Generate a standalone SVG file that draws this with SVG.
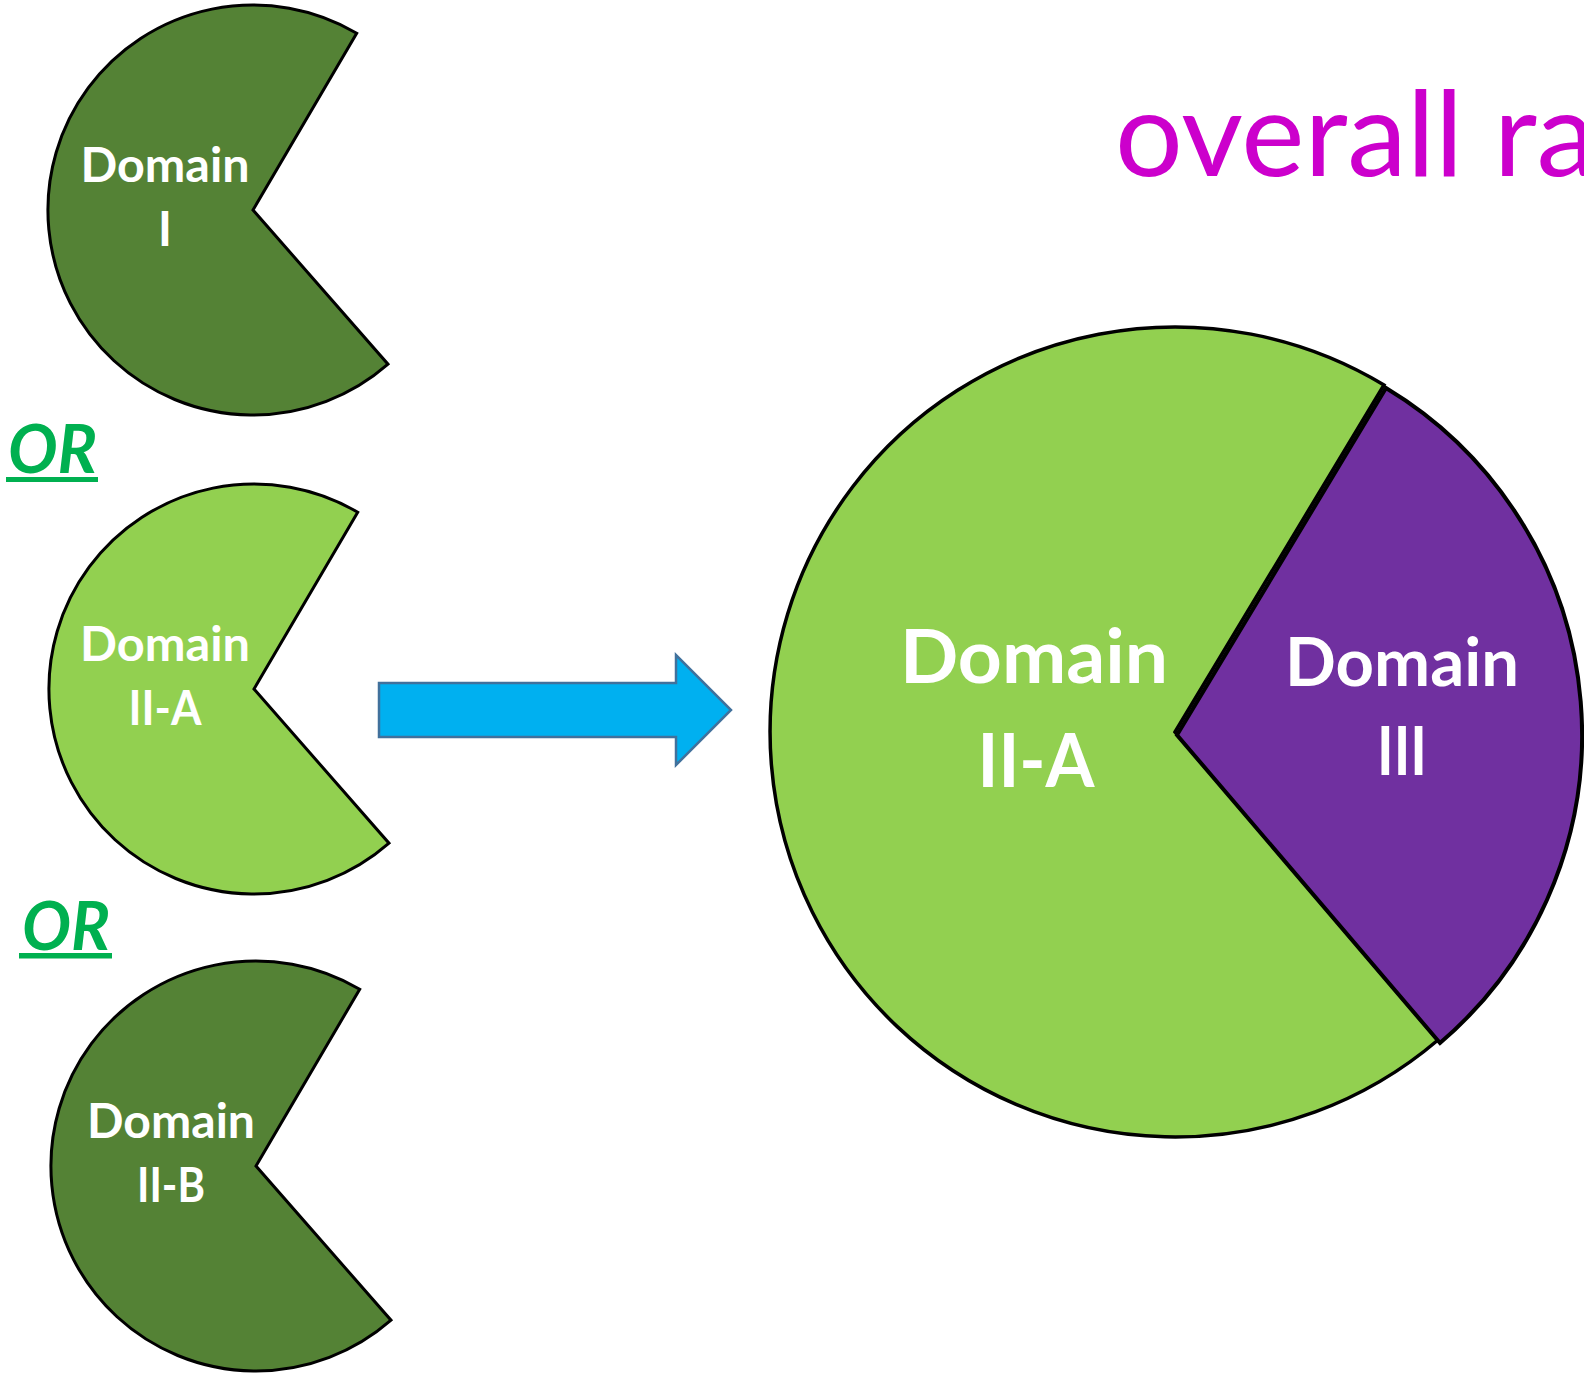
<svg xmlns="http://www.w3.org/2000/svg" xmlns:xlink="http://www.w3.org/1999/xlink" width="1584" height="1376" viewBox="0 0 1584 1376">
  <style>
    .lbl { font-family: Lato, "Open Sans", "Liberation Sans", sans-serif; font-weight: 700; fill: #FFFFFF; text-anchor: middle; }
    .s { font-size: 47px; }
    .or { font-family: Lato, "Open Sans", "Liberation Sans", sans-serif; font-weight: 700; font-style: italic; font-size: 67px; fill: #00B050; }
    .ul { fill: #00B050; }
    .pac { stroke: #000000; stroke-width: 3; stroke-linejoin: miter; }
    .dark { fill: #548235; }
    .light { fill: #92D050; }
    .title { font-family: Lato, "Open Sans", "Liberation Sans", sans-serif; font-weight: 400; font-size: 118px; fill: #CC00CC; }
  </style>
  <defs>
    <path id="pac" d="M0 0 L103.7 -176.8 A205 205 0 1 0 135 154.2 Z"/>
  </defs>
  <rect x="0" y="0" width="1584" height="1376" fill="#FFFFFF"/>

  <g id="title">
    <text class="title" x="1115" y="176" textLength="481" lengthAdjust="spacingAndGlyphs">overall ra</text>
  </g>

  <g id="domain-I">
    <use xlink:href="#pac" href="#pac" class="pac dark" transform="translate(253 210)"/>
    <text class="lbl s" x="165" y="182" textLength="169" lengthAdjust="spacingAndGlyphs">Domain</text>
    <text class="lbl s" x="165" y="246">I</text>
  </g>

  <g id="or-1">
    <text class="or" x="8" y="473" textLength="89" lengthAdjust="spacingAndGlyphs">OR</text>
    <rect class="ul" x="6" y="477" width="92" height="5"/>
  </g>

  <g id="domain-IIA-small">
    <use xlink:href="#pac" href="#pac" class="pac light" transform="translate(254 689)"/>
    <text class="lbl s" x="165" y="661" textLength="170" lengthAdjust="spacingAndGlyphs">Domain</text>
    <text class="lbl s" x="165" y="725" textLength="73" lengthAdjust="spacingAndGlyphs">II-A</text>
  </g>

  <g id="or-2">
    <text class="or" x="22" y="950" textLength="88" lengthAdjust="spacingAndGlyphs">OR</text>
    <rect class="ul" x="19" y="953" width="93" height="5.5"/>
  </g>

  <g id="domain-IIB">
    <use xlink:href="#pac" href="#pac" class="pac dark" transform="translate(256 1166)"/>
    <text class="lbl s" x="171" y="1138" textLength="168" lengthAdjust="spacingAndGlyphs">Domain</text>
    <text class="lbl s" x="171" y="1202" textLength="68" lengthAdjust="spacingAndGlyphs">II-B</text>
  </g>

  <g id="connectors">
    <path id="arrow" d="M379 683 L676 683 L676 655 L731 710 L676 765 L676 737 L379 737 Z" fill="#00B0F0" stroke="#41719C" stroke-width="2.5" stroke-linejoin="miter"/>
  </g>

  <g id="domain-IIA-big">
    <path d="M1175 732 L1384 385 A405 405 0 1 0 1438 1040 Z" fill="#92D050" stroke="#000000" stroke-width="3.5"/>
    <text class="lbl" style="font-size:74px" x="1034" y="683" textLength="268" lengthAdjust="spacingAndGlyphs">Domain</text>
    <text class="lbl" style="font-size:74px" x="1036" y="787" textLength="117" lengthAdjust="spacingAndGlyphs">II-A</text>
  </g>

  <g id="domain-III">
    <path d="M1177 735 L1386 388 A405 405 0 0 1 1440 1043 Z" fill="#7030A0" stroke="#000000" stroke-width="4"/>
    <text class="lbl" style="font-size:67px" x="1402" y="686" textLength="234" lengthAdjust="spacingAndGlyphs">Domain</text>
    <text class="lbl" style="font-size:67px" x="1402" y="775" textLength="50" lengthAdjust="spacingAndGlyphs">III</text>
  </g>
</svg>
